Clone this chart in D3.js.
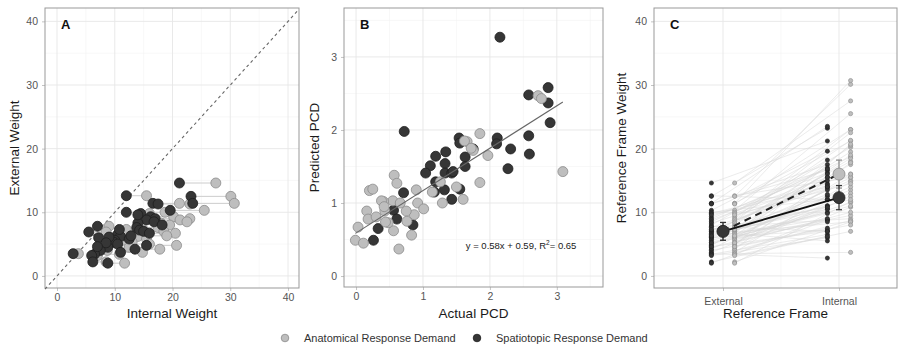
<!DOCTYPE html>
<html>
<head>
<meta charset="utf-8">
<script src="https://cdn.jsdelivr.net/npm/d3@7"></script>
<style>
  body { margin: 0; background: #fff; }
  text { font-family: "Liberation Sans", Arial, sans-serif; }
</style>
</head>
<body>
<svg id="fig" width="906" height="351"></svg>
<script>
// ---- data: one entry per participant (panels A and C) ----
var extWeight = [14.6, 12.6, 12.5, 11.4, 11.4, 11.3, 10.3, 10.0, 9.8, 9.3, 9.0, 8.8, 8.5, 8.3, 8.0, 7.8, 7.6, 7.2, 7.0, 6.9, 6.7, 6.5, 6.2, 6.0, 5.8, 5.6, 5.3, 5.0, 4.8, 4.5, 4.2, 4.0, 3.7, 3.5, 3.4, 3.2, 2.2, 2.0, 6.1, 7.3, 5.2, 9.6, 4.6, 6.3];
var intAnatomical = [27.5, 15.5, 30.1, 30.7, 21.2, 23.0, 25.5, 18.7, 16.0, 20.2, 23.0, 21.3, 22.5, 18.0, 19.5, 9.0, 17.5, 15.0, 18.5, 8.5, 20.5, 13.5, 14.0, 9.5, 15.5, 11.5, 13.0, 16.0, 20.7, 12.5, 17.8, 8.7, 14.8, 3.7, 10.8, 7.0, 8.5, 11.7, 11.0, 12.0, 10.0, 14.5, 8.0, 19.0];
var intSpatiotopic = [21.2, 12.0, 23.2, 23.5, 16.6, 17.5, 19.6, 12.0, 14.5, 16.2, 17.0, 15.5, 16.8, 14.0, 18.2, 7.0, 13.8, 14.3, 15.0, 5.5, 16.0, 10.5, 11.0, 7.2, 12.5, 10.0, 9.8, 10.5, 15.5, 8.8, 13.5, 7.5, 11.0, 2.8, 6.5, 6.0, 6.2, 8.8, 9.0, 10.8, 8.5, 14.0, 7.0, 12.8];

// panel B: actual vs predicted PCD
var actualAnat = [2.72, 2.77, 3.09, 1.85, 1.97, 1.75, 1.66, 1.85, 1.50, 1.60, 1.29, 1.26, 1.14, 0.90, 0.92, 1.01, 0.87, 0.83, 0.75, 0.64, 0.57, 0.61, 0.55, 0.56, 0.43, 0.41, 0.38, 0.48, 0.20, 0.25, 0.16, 0.18, 0.03, -0.01, 0.11, 0.76, 0.44, 0.42, 0.66, 0.30, 1.72, 1.62];
var predAnat   = [2.47, 2.43, 1.43, 1.95, 1.65, 1.72, 1.84, 1.28, 1.22, 1.05, 1.00, 1.29, 1.15, 1.18, 1.00, 0.92, 0.84, 0.56, 0.89, 0.37, 1.38, 1.27, 1.03, 0.62, 0.89, 1.02, 1.03, 0.73, 1.17, 1.19, 0.89, 0.78, 0.67, 0.49, 0.45, 0.75, 0.74, 0.95, 1.00, 0.81, 1.75, 1.85];
var actualSpat = [2.15, 2.58, 2.87, 2.87, 2.90, 2.58, 2.59, 2.31, 2.27, 2.11, 2.10, 0.72, 1.54, 1.55, 1.63, 1.63, 1.75, 1.34, 1.19, 1.11, 1.04, 1.19, 1.33, 1.33, 1.43, 1.17, 1.32, 1.55, 1.43, 0.71, 0.56, 0.61, 0.33, 0.85, 0.26, 1.45];
var predSpat   = [3.27, 2.48, 2.58, 2.37, 2.10, 1.92, 1.67, 1.74, 1.47, 1.89, 1.81, 1.98, 1.89, 1.82, 1.63, 1.50, 1.74, 1.70, 1.64, 1.51, 1.41, 1.29, 1.54, 1.41, 1.41, 1.15, 1.18, 1.19, 1.05, 1.14, 0.90, 0.78, 0.65, 0.70, 0.49, 1.43];
var fitSlope = 0.58, fitIntercept = 0.59, fitR2 = 0.65;

// panel C: group means and error bars
var frames = ["External", "Internal"];
var meanAnat = [7.0, 16.0], errAnat = [1.4, 2.2];
var meanSpat = [7.0, 12.3], errSpat = [1.4, 1.9];

var groups = ["Anatomical Response Demand", "Spatiotopic Response Demand"];

// ---- styling ----
var darkFill = "#363636", darkStroke = "#1e1e1e";
var lightFill = "#bebebe", lightStroke = "#8c8c8c";

var svg = d3.select("#fig");

function drawPanel(box, xs, ys, opt) {
    var g = svg.append("g");
    // minor grid
    g.selectAll(".xminor").data(opt.xminor).enter().append("line")
        .attr("x1", d => xs(d)).attr("x2", d => xs(d))
        .attr("y1", box.y0).attr("y2", box.y1)
        .attr("stroke", "#f3f3f3").attr("stroke-width", 0.6);
    g.selectAll(".yminor").data(opt.yminor).enter().append("line")
        .attr("y1", d => ys(d)).attr("y2", d => ys(d))
        .attr("x1", box.x0).attr("x2", box.x1)
        .attr("stroke", "#f3f3f3").attr("stroke-width", 0.6);
    // major grid
    g.selectAll(".xmajor").data(opt.xticks).enter().append("line")
        .attr("x1", d => xs(d)).attr("x2", d => xs(d))
        .attr("y1", box.y0).attr("y2", box.y1)
        .attr("stroke", "#e6e6e6").attr("stroke-width", 0.9);
    g.selectAll(".ymajor").data(opt.yticks).enter().append("line")
        .attr("y1", d => ys(d)).attr("y2", d => ys(d))
        .attr("x1", box.x0).attr("x2", box.x1)
        .attr("stroke", "#e6e6e6").attr("stroke-width", 0.9);

    // axes
    var xa = g.append("g").attr("transform", "translate(0," + box.y1 + ")")
        .call(d3.axisBottom(xs).tickValues(opt.xticks).tickSize(3).tickPadding(opt.xpad || 3)
            .tickFormat(opt.xfmt || d3.format("d")));
    var ya = g.append("g").attr("transform", "translate(" + box.x0 + ",0)")
        .call(d3.axisLeft(ys).tickValues(opt.yticks).tickSize(3).tickPadding(4)
            .tickFormat(d3.format("d")));
    [xa, ya].forEach(function (a) {
        a.select(".domain").remove();
        a.selectAll("line").attr("stroke", "#c4c4c4");
        a.selectAll("text").attr("fill", "#555").style("font-size", "10.5px")
            .style("font-family", "'Liberation Sans', Arial, sans-serif");
    });

    // border
    g.append("rect")
        .attr("x", box.x0).attr("y", box.y0)
        .attr("width", box.x1 - box.x0).attr("height", box.y1 - box.y0)
        .attr("fill", "none").attr("stroke", "#999").attr("stroke-width", 1);

    // axis titles
    g.append("text")
        .attr("x", (box.x0 + box.x1) / 2).attr("y", 318)
        .attr("text-anchor", "middle").attr("fill", "#1a1a1a")
        .style("font-size", "13.5px").text(opt.xtitle);
    g.append("text")
        .attr("transform", "translate(" + opt.ytitleX + "," + ((box.y0 + box.y1) / 2) + ") rotate(-90)")
        .attr("text-anchor", "middle").attr("fill", "#1a1a1a")
        .style("font-size", "13.5px").text(opt.ytitle);

    // panel tag
    g.append("text")
        .attr("x", box.x0 + 16).attr("y", 29)
        .attr("fill", "#111").style("font-size", "13px").style("font-weight", "bold")
        .text(opt.tag);
    return g;
}

// ---------------- Panel A ----------------
var boxA = {x0: 45, x1: 299, y0: 8, y1: 288};
var xA = d3.scaleLinear().domain([-2.08, 41.9]).range([boxA.x0, boxA.x1]);
var yA = d3.scaleLinear().domain([-1.9, 42.1]).range([boxA.y1, boxA.y0]);
drawPanel(boxA, xA, yA, {
    xticks: [0, 10, 20, 30, 40], yticks: [0, 10, 20, 30, 40],
    xminor: [5, 15, 25, 35], yminor: [5, 15, 25, 35],
    xtitle: "Internal Weight", ytitle: "External Weight", ytitleX: 19, tag: "A"
});
var gA = svg.append("g");
gA.append("line")
    .attr("x1", xA(-2.08)).attr("y1", yA(-2.08))
    .attr("x2", xA(41.9)).attr("y2", yA(41.9))
    .attr("stroke", "#666").attr("stroke-width", 1.1).attr("stroke-dasharray", "3,3");
gA.selectAll(".pair").data(extWeight).enter().append("line")
    .attr("x1", (d, i) => xA(intSpatiotopic[i])).attr("x2", (d, i) => xA(intAnatomical[i]))
    .attr("y1", d => yA(d)).attr("y2", d => yA(d))
    .attr("stroke", "#cccccc").attr("stroke-width", 1);
gA.selectAll(".anat").data(extWeight).enter().append("circle")
    .attr("cx", (d, i) => xA(intAnatomical[i])).attr("cy", d => yA(d)).attr("r", 5)
    .attr("fill", lightFill).attr("stroke", lightStroke).attr("stroke-width", 0.8);
gA.selectAll(".spat").data(extWeight).enter().append("circle")
    .attr("cx", (d, i) => xA(intSpatiotopic[i])).attr("cy", d => yA(d)).attr("r", 5)
    .attr("fill", darkFill).attr("stroke", darkStroke).attr("stroke-width", 0.8);

// ---------------- Panel B ----------------
var boxB = {x0: 344, x1: 603, y0: 8, y1: 287};
var xB = d3.scaleLinear().domain([-0.18, 3.69]).range([boxB.x0, boxB.x1]);
var yB = d3.scaleLinear().domain([-0.15, 3.67]).range([boxB.y1, boxB.y0]);
drawPanel(boxB, xB, yB, {
    xticks: [0, 1, 2, 3], yticks: [0, 1, 2, 3],
    xminor: [0.5, 1.5, 2.5, 3.5], yminor: [0.5, 1.5, 2.5, 3.5],
    xtitle: "Actual PCD", ytitle: "Predicted PCD", ytitleX: 319, tag: "B"
});
var gB = svg.append("g");
gB.selectAll(".spat").data(actualSpat).enter().append("circle")
    .attr("cx", d => xB(d)).attr("cy", (d, i) => yB(predSpat[i])).attr("r", 5)
    .attr("fill", darkFill).attr("stroke", darkStroke).attr("stroke-width", 0.8);
gB.selectAll(".anat").data(actualAnat).enter().append("circle")
    .attr("cx", d => xB(d)).attr("cy", (d, i) => yB(predAnat[i])).attr("r", 5)
    .attr("fill", lightFill).attr("stroke", lightStroke).attr("stroke-width", 0.8);
var allActual = actualAnat.concat(actualSpat);
var fitX = d3.extent(allActual);
gB.append("line")
    .attr("x1", xB(fitX[0])).attr("y1", yB(fitSlope * fitX[0] + fitIntercept))
    .attr("x2", xB(fitX[1])).attr("y2", yB(fitSlope * fitX[1] + fitIntercept))
    .attr("stroke", "#666").attr("stroke-width", 1.1);
var eq = gB.append("text")
    .attr("x", xB(1.64)).attr("y", yB(0.37))
    .attr("fill", "#1a1a1a").style("font-size", "9.5px");
eq.append("tspan").text("y = " + fitSlope.toFixed(2) + "x + " + fitIntercept.toFixed(2) + ", R");
eq.append("tspan").attr("dy", -4).style("font-size", "6.5px").text("2");
eq.append("tspan").attr("dy", 4).text("= " + fitR2.toFixed(2));

// ---------------- Panel C ----------------
var boxC = {x0: 654, x1: 897, y0: 8, y1: 288};
var xC = d3.scaleLinear().domain([0.405, 2.5]).range([boxC.x0, boxC.x1]);
var yC = d3.scaleLinear().domain([-1.9, 42.1]).range([boxC.y1, boxC.y0]);
drawPanel(boxC, xC, yC, {
    xticks: [1, 2], yticks: [0, 10, 20, 30, 40],
    xminor: [1.5], yminor: [5, 15, 25, 35],
    xfmt: d => frames[d - 1], xpad: 7,
    xtitle: "Reference Frame", ytitle: "Reference Frame Weight", ytitleX: 626, tag: "C"
});
var gC = svg.append("g");
var dodge = 0.1;
// individual participant lines
gC.selectAll(".ls").data(extWeight).enter().append("line")
    .attr("x1", xC(1 - dodge)).attr("x2", xC(2 - dodge))
    .attr("y1", d => yC(d)).attr("y2", (d, i) => yC(intSpatiotopic[i]))
    .attr("stroke", "#d6d6d6").attr("stroke-width", 0.6).attr("opacity", 0.8);
gC.selectAll(".la").data(extWeight).enter().append("line")
    .attr("x1", xC(1 + dodge)).attr("x2", xC(2 + dodge))
    .attr("y1", d => yC(d)).attr("y2", (d, i) => yC(intAnatomical[i]))
    .attr("stroke", "#d6d6d6").attr("stroke-width", 0.6).attr("opacity", 0.8);
// individual points
function colPoints(vals, xpos, fill, stroke) {
    gC.selectAll(null).data(vals).enter().append("circle")
        .attr("cx", xC(xpos)).attr("cy", d => yC(d)).attr("r", 2.1)
        .attr("fill", fill).attr("stroke", stroke).attr("stroke-width", 0.6);
}
colPoints(extWeight, 1 - dodge, darkFill, darkStroke);
colPoints(extWeight, 1 + dodge, lightFill, lightStroke);
colPoints(intSpatiotopic, 2 - dodge, darkFill, darkStroke);
colPoints(intAnatomical, 2 + dodge, lightFill, lightStroke);

// group mean lines
var lineC = d3.line().x((d, i) => xC(i + 1)).y(d => yC(d));
gC.append("path").datum(meanAnat).attr("d", lineC)
    .attr("fill", "none").attr("stroke", "#222").attr("stroke-width", 2)
    .attr("stroke-dasharray", "7,5");
gC.append("path").datum(meanSpat).attr("d", lineC)
    .attr("fill", "none").attr("stroke", "#111").attr("stroke-width", 2);

// error bars + mean points
function meanMarks(means, errs, fill, stroke, barColor) {
    means.forEach(function (m, i) {
        var x = xC(i + 1);
        gC.append("line").attr("x1", x).attr("x2", x)
            .attr("y1", yC(m - errs[i])).attr("y2", yC(m + errs[i]))
            .attr("stroke", barColor).attr("stroke-width", 1.2);
        [m - errs[i], m + errs[i]].forEach(function (v) {
            gC.append("line").attr("x1", x - 3).attr("x2", x + 3)
                .attr("y1", yC(v)).attr("y2", yC(v))
                .attr("stroke", barColor).attr("stroke-width", 1.2);
        });
        gC.append("circle").attr("cx", x).attr("cy", yC(m)).attr("r", 6)
            .attr("fill", fill).attr("stroke", stroke).attr("stroke-width", 0.8);
    });
}
meanMarks(meanAnat, errAnat, lightFill, lightStroke, "#8a8a8a");
meanMarks(meanSpat, errSpat, darkFill, darkStroke, "#333");

// ---------------- Legend ----------------
var legend = svg.append("g");
var legX = [285, 477];
groups.forEach(function (name, i) {
    legend.append("circle").attr("cx", legX[i]).attr("cy", 338).attr("r", 3.8)
        .attr("fill", i === 0 ? lightFill : darkFill)
        .attr("stroke", i === 0 ? lightStroke : darkStroke).attr("stroke-width", 0.8);
    legend.append("text").attr("x", legX[i] + 19).attr("y", 342)
        .attr("fill", "#333").style("font-size", "11px").text(name);
});
</script>
</body>
</html>
